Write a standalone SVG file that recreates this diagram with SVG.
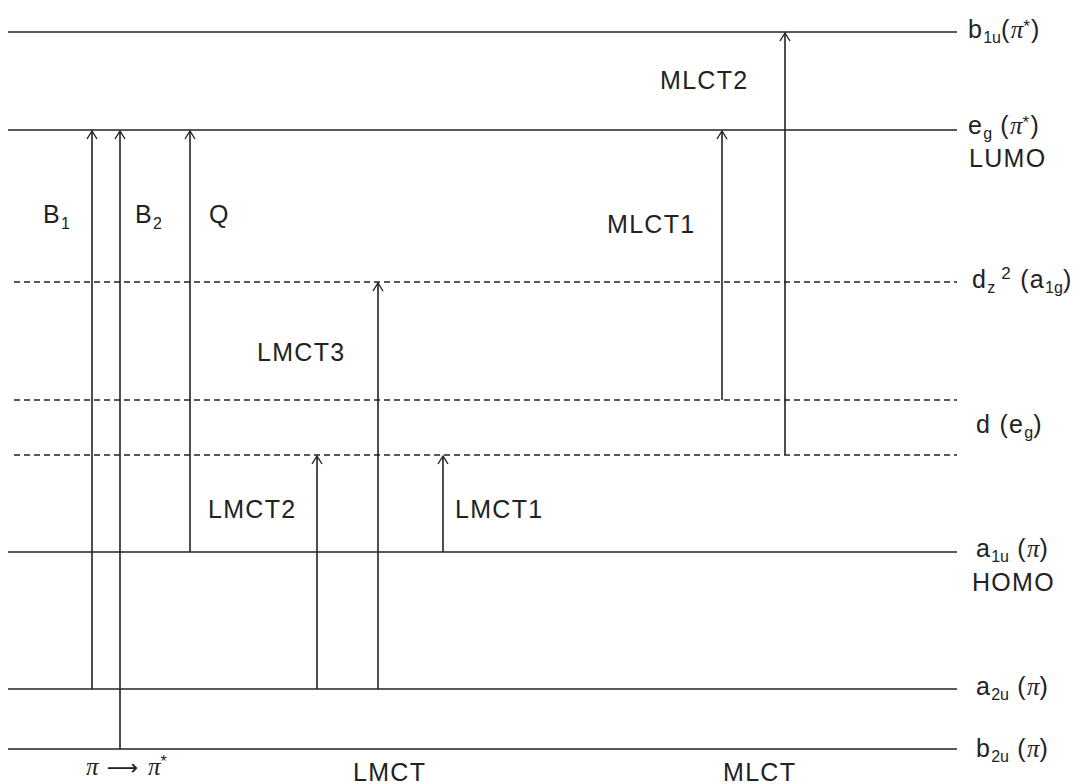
<svg xmlns="http://www.w3.org/2000/svg" width="1080" height="784" viewBox="0 0 1080 784">
<defs>
<marker id="ah" markerWidth="12" markerHeight="12" refX="10" refY="6" orient="auto" markerUnits="userSpaceOnUse" viewBox="0 0 12 12">
<path d="M2,1 L10,6 L2,11" fill="none" stroke="#222" stroke-width="1.4"/>
</marker>
</defs>
<style>
.lv{stroke:#222;stroke-width:1.6;fill:none}
.dl{stroke:#222;stroke-width:1.3;stroke-dasharray:6,4;fill:none}
.ar{stroke:#222;stroke-width:1.6;fill:none;marker-end:url(#ah)}
text{font-family:"Liberation Sans",Arial,sans-serif;font-size:25px;letter-spacing:1.3px;fill:#222}
.sub{font-size:16px;letter-spacing:0}
.gr{font-family:"Liberation Serif","Times New Roman",serif;font-style:italic;letter-spacing:0}
</style>
<rect width="1080" height="784" fill="#fff"/>
<g id="levels">
<g id="b1u"><line class="lv" x1="8" y1="32" x2="957" y2="32"/><text x="968" y="38">b<tspan class="sub" dy="5">1u</tspan><tspan dy="-5">(</tspan><tspan class="gr">π</tspan><tspan dy="-6" font-size="17">*</tspan><tspan dy="6">)</tspan></text></g>
<g id="eg"><line class="lv" x1="8" y1="130" x2="957" y2="130"/><text x="968" y="134">e<tspan class="sub" dy="5">g</tspan><tspan dy="-5"> (</tspan><tspan class="gr">π</tspan><tspan dy="-6" font-size="17">*</tspan><tspan dy="6">)</tspan></text><text x="969" y="167">LUMO</text></g>
<g id="dz2"><line class="dl" x1="14" y1="282" x2="957" y2="282"/><text x="972" y="288">d<tspan class="sub" dy="5">z</tspan><tspan dy="-14" font-size="17"> 2</tspan><tspan dy="9"> (a</tspan><tspan class="sub" dy="5">1g</tspan><tspan dy="-5">)</tspan></text></g>
<g id="deg"><line class="dl" x1="14" y1="400" x2="957" y2="400"/><line class="dl" x1="14" y1="455" x2="957" y2="455"/><text x="976" y="433">d (e<tspan class="sub" dy="5">g</tspan><tspan dy="-5">)</tspan></text></g>
<g id="a1u"><line class="lv" x1="8" y1="552" x2="957" y2="552"/><text x="976" y="557">a<tspan class="sub" dy="5">1u</tspan><tspan dy="-5"> (</tspan><tspan class="gr">π</tspan>)</text><text x="972" y="591">HOMO</text></g>
<g id="a2u"><line class="lv" x1="8" y1="689" x2="957" y2="689"/><text x="976" y="695">a<tspan class="sub" dy="5">2u</tspan><tspan dy="-5"> (</tspan><tspan class="gr">π</tspan>)</text></g>
<g id="b2u"><line class="lv" x1="8" y1="749" x2="957" y2="749"/><text x="976" y="757">b<tspan class="sub" dy="5">2u</tspan><tspan dy="-5"> (</tspan><tspan class="gr">π</tspan>)</text></g>
</g>
<g id="connectors">
<line class="ar" x1="92" y1="689" x2="92" y2="131"/>
<line class="ar" x1="120" y1="749" x2="120" y2="131"/>
<line class="ar" x1="190" y1="552" x2="190" y2="131"/>
<line class="ar" x1="317" y1="689" x2="317" y2="456"/>
<line class="ar" x1="378" y1="689" x2="378" y2="283"/>
<line class="ar" x1="443" y1="552" x2="443" y2="456"/>
<line class="ar" x1="722" y1="400" x2="722" y2="131"/>
<line class="ar" x1="785" y1="455" x2="785" y2="33"/>
</g>
<g id="labels">
<text x="43" y="223">B<tspan class="sub" dy="6">1</tspan></text>
<text x="135" y="223">B<tspan class="sub" dy="6">2</tspan></text>
<text x="209" y="223">Q</text>
<text x="607" y="233">MLCT1</text>
<text x="660" y="89">MLCT2</text>
<text x="257" y="361">LMCT3</text>
<text x="208" y="518">LMCT2</text>
<text x="455" y="518">LMCT1</text>
<text x="86" y="775" font-size="22"><tspan class="gr">π</tspan> <tspan font-family="DejaVu Sans" font-size="22">⟶</tspan> <tspan class="gr">π</tspan><tspan dy="-8" font-size="16">*</tspan></text>
<text x="353" y="781">LMCT</text>
<text x="723" y="781">MLCT</text>
</g>
</svg>
